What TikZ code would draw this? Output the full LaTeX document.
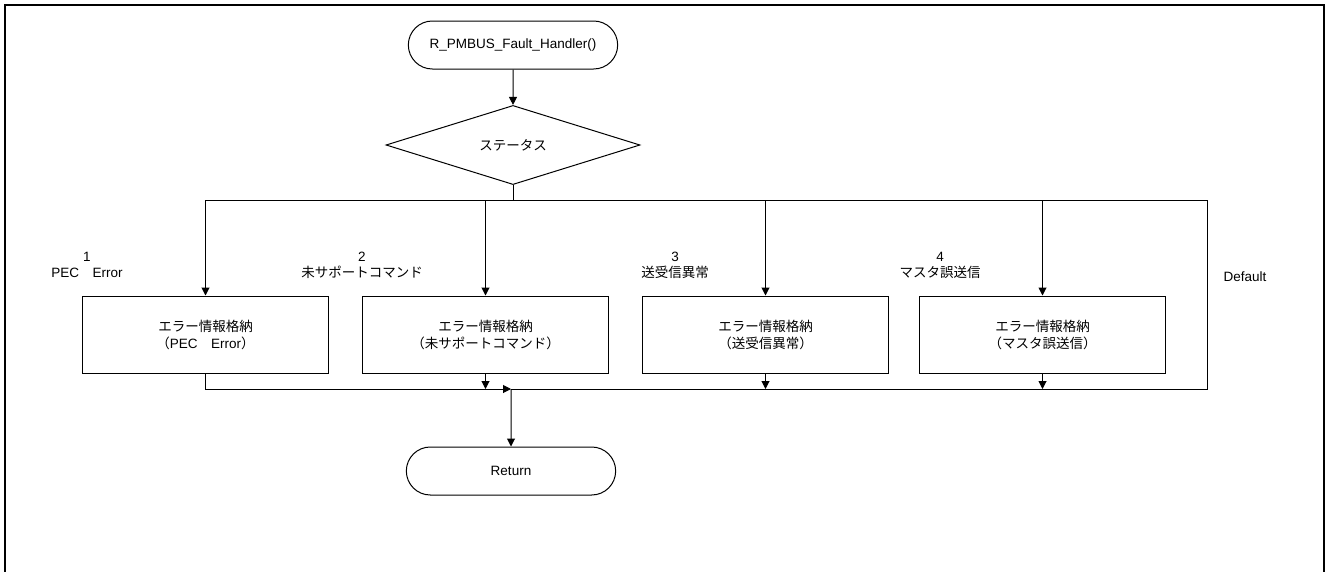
\documentclass[tikz,border=0pt]{standalone}
\usepackage{fontspec}
\setmainfont{Liberation Sans}
\newfontfamily\jpfont{Noto Sans CJK JP}
\newcommand{\jp}[1]{{\jpfont #1}}
\usetikzlibrary{arrows.meta}
\usetikzlibrary{shapes.geometric,shapes.misc}

\begin{document}
\begin{tikzpicture}
  [x=1pt,y=-1pt,every node/.style={font=\fontsize{13.5pt}{17pt}\selectfont}]
  \tikzstyle{term}=[draw,rounded rectangle,minimum width=216pt,minimum height=48pt,line width=1pt]
  \tikzstyle{dec}=[draw,diamond,minimum width=254pt,minimum height=71pt,inner sep=0pt,line width=1pt]
  \tikzstyle{proc}=[draw,rectangle,minimum width=246pt,minimum height=77pt,align=center,line width=1pt]
  \tikzstyle{lbl}=[align=center,inner sep=0pt,font=\fontsize{13.5pt}{16pt}\selectfont]
  \tikzstyle{arr}=[line width=1pt,-{Triangle[length=8pt,width=8pt]}]
  \useasboundingbox (0,0) rectangle (1326,571);
  \draw[line width=2.5pt] (5,580) -- (5,5) -- (1324,5) -- (1324,580);

  \node[term] (start) at (513,45)  {R\_PMBUS\_Fault\_Handler()};
  \node[dec]  (stat)  at (513,145) {\jp{ステータス}};
  \node[proc] (b1) at (205.5,334.5) {\jp{エラー情報格納}\\\jp{（}PEC\jp{　}Error\jp{）}};
  \node[proc] (b2) at (485.5,334.5) {\jp{エラー情報格納}\\\jp{（未サポートコマンド）}};
  \node[proc] (b3) at (765.5,334.5) {\jp{エラー情報格納}\\\jp{（送受信異常）}};
  \node[proc] (b4) at (1042.5,334.5) {\jp{エラー情報格納}\\\jp{（マスタ誤送信）}};
  \node[term] (ret)   at (511,471) {Return};

  % case labels
  \node[lbl] (l1) at (87,265)   {1\\PEC\jp{　}Error};
  \node[lbl] (l2) at (362,265)  {2\\\jp{未サポートコマンド}};
  \node[lbl] (l3) at (675,265)  {3\\\jp{送受信異常}};
  \node[lbl] (l4) at (940,265)  {4\\\jp{マスタ誤送信}};
  \node[lbl] (ld) at (1245,277) {Default};

  \coordinate (split) at (513,200);
  \coordinate (dflt)  at (1207,389);
  \coordinate (join)  at (511,389);

  \draw[arr] (start) -- (stat);
  \draw[line width=1pt] (stat) -- (split);
  \draw[arr] (split) -| (b1);
  \draw[arr] (split) -| (b2);
  \draw[arr] (split) -| (b3);
  \draw[arr] (split) -| (b4);
  \draw[line width=1pt] (split) -| (dflt) -- (join);
  \draw[arr] (b1) |- (join);
  \draw[arr] (b2) -- (b2 |- join);
  \draw[arr] (b3) -- (b3 |- join);
  \draw[arr] (b4) -- (b4 |- join);
  \draw[arr] (join) -- (ret);
\end{tikzpicture}
\end{document}
